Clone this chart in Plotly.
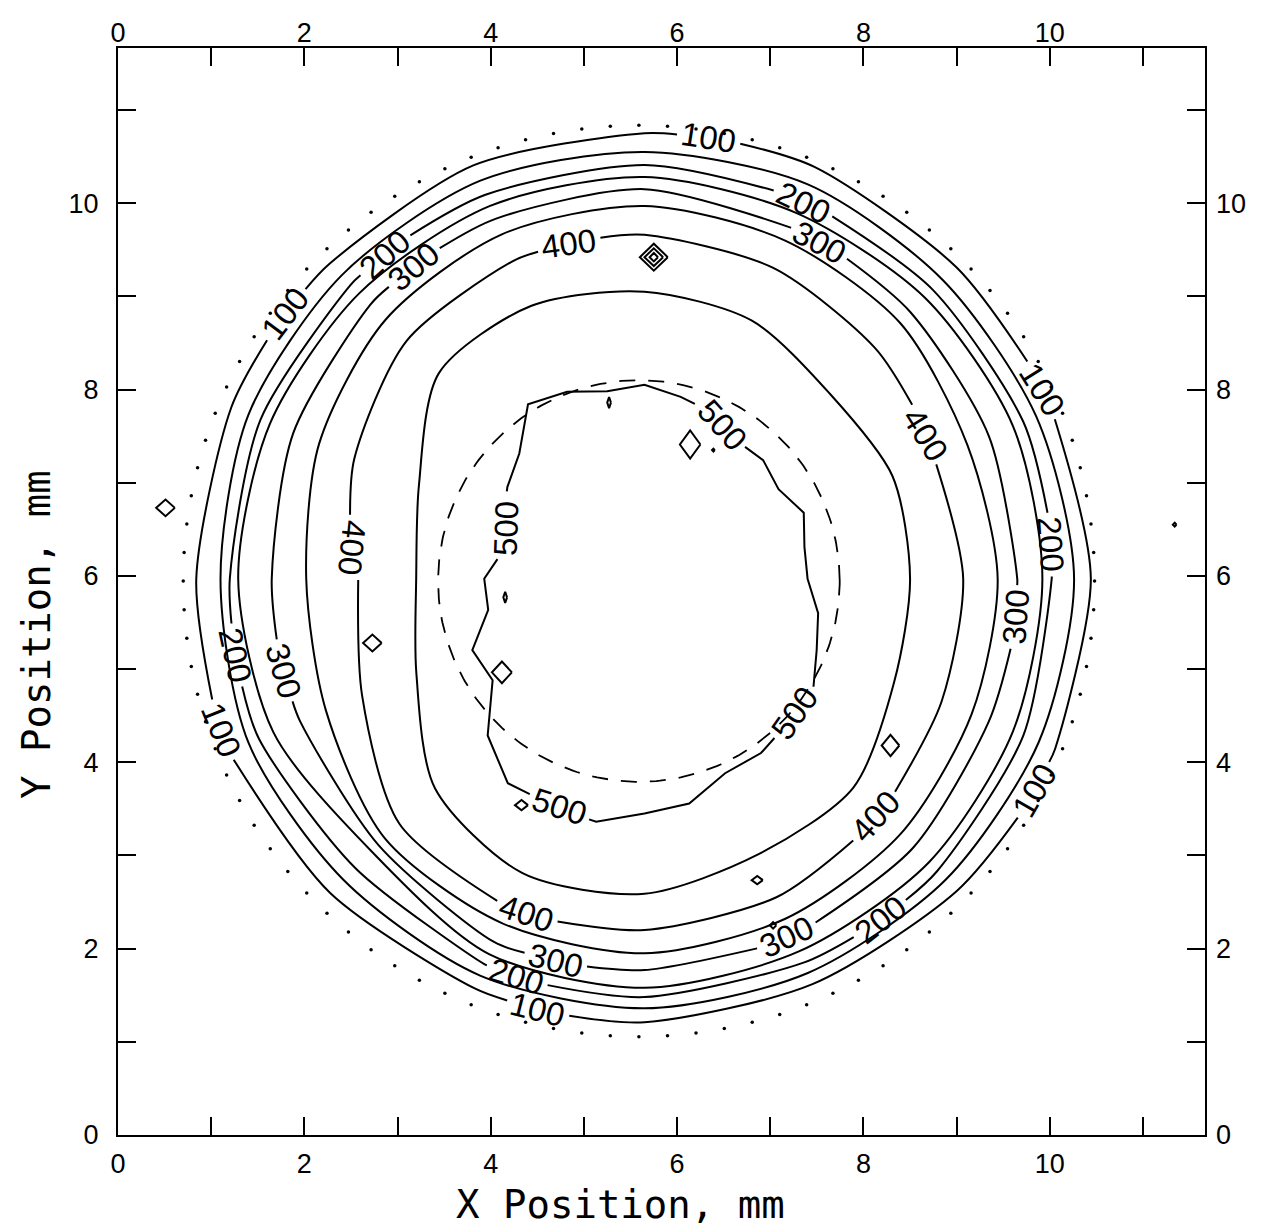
import numpy as np
import plotly.graph_objects as go

# ---------------- data ----------------
# contour rings: radius (mm) measured from the ring centre along fixed directions
ring_center_x = 5.65
ring_center_y = 5.97
ring_angles = [0.0, 22.5, 45.0, 67.5, 90.0, 112.5, 135.0, 157.5,
               180.0, 202.5, 225.0, 247.5, 270.0, 292.5, 315.0, 337.5]
r100 = [4.79, 4.72, 4.73, 4.78, 4.78, 4.80, 4.78, 4.80, 4.81, 4.82, 4.77, 4.76, 4.76, 4.71, 4.74, 4.77]
r150 = [4.61, 4.55, 4.53, 4.58, 4.58, 4.62, 4.60, 4.60, 4.55, 4.60, 4.57, 4.61, 4.61, 4.58, 4.57, 4.58]
r200 = [4.37, 4.40, 4.38, 4.38, 4.44, 4.46, 4.46, 4.46, 4.45, 4.48, 4.39, 4.48, 4.49, 4.46, 4.44, 4.40]
r250 = [4.27, 4.28, 4.26, 4.25, 4.31, 4.33, 4.33, 4.35, 4.36, 4.31, 4.14, 4.36, 4.39, 4.33, 4.31, 4.28]
r300 = [4.00, 4.00, 4.04, 4.08, 4.18, 4.18, 4.16, 4.08, 4.00, 4.00, 4.04, 4.22, 4.20, 4.13, 4.08, 4.00]
r350 = [3.79, 3.75, 3.88, 3.93, 4.00, 4.00, 3.93, 3.78, 3.63, 3.70, 3.94, 4.00, 4.02, 3.95, 3.88, 3.80]
r400 = [3.42, 3.36, 3.50, 3.61, 3.69, 3.69, 3.61, 3.37, 3.07, 3.28, 3.72, 3.81, 3.77, 3.70, 3.55, 3.45]
r450 = [2.85, 2.88, 2.81, 3.00, 3.08, 3.17, 3.12, 2.62, 2.45, 2.65, 3.18, 3.42, 3.38, 3.20, 3.17, 2.90]
core_angles = [0.0, 11.25, 22.5, 33.75, 45.0, 56.25, 67.5, 78.75, 90.0, 101.25, 112.5, 123.75,
               135.0, 146.25, 157.5, 168.75, 180.0, 191.25, 202.5, 213.75, 225.0, 236.25,
               247.5, 258.75, 270.0, 281.25, 292.5, 303.75, 315.0, 326.25, 337.5, 348.75]
r500 = [1.75, 1.75, 1.85, 1.73, 1.80, 1.77, 1.90, 1.99, 2.08, 2.05, 2.17, 2.25,
        1.90, 1.77, 1.60, 1.53, 1.72, 1.71, 2.00, 1.96, 2.38, 2.64,
        2.60, 2.66, 2.52, 2.46, 2.26, 2.25, 2.16, 2.17, 2.00, 1.90]

# contour labels: level, direction (deg) and text rotation (deg, clockwise)
label_levels = [100, 100, 100, 100, 100, 100,
                200, 200, 200, 200, 200, 200,
                300, 300, 300, 300, 300, 300,
                400, 400, 400, 400, 400,
                500, 500, 500, 500]
label_angles = [81.7, 25.4, -28.5, -103.9, 199.7, 143.6,
                67.1, 4.8, -55.3, -107.8, 190.6, 128.7,
                62.5, -5.9, -68.3, -103.1, 194.3, 126.5,
                102.7, 27.2, -45.9, -109.4, 174.0,
                160.0, 63.3, -41.7, -110.5]
label_rot = [9, 58, -60, 14, 68, -53,
             26, 86, -38, 17, 78, -42,
             28, -86, -25, 14, 74, -40,
             -8, 58, -48, 18, 96,
             -88, 48, -55, 18]

# small closed contours (islands): centre and half sizes
island_x = [5.75, 5.75, 5.75, 0.51, 11.34, 2.73, 4.12, 4.155, 5.27, 6.39, 6.14, 8.29, 4.33, 6.86, 7.03]
island_y = [9.42, 9.42, 9.42, 6.73, 6.55, 5.28, 4.965, 5.77, 7.86, 7.35, 7.41, 4.18, 3.54, 2.735, 2.25]
island_hx = [0.15, 0.10, 0.045, 0.10, 0.02, 0.10, 0.107, 0.02, 0.02, 0.015, 0.11, 0.095, 0.07, 0.06, 0.035]
island_hy = [0.145, 0.095, 0.045, 0.09, 0.02, 0.09, 0.116, 0.06, 0.06, 0.015, 0.15, 0.115, 0.055, 0.045, 0.035]

# reference circles
circle_cx = 5.59
circle_cy = 5.945
aperture_r = 4.89
aperture_dots = 100
beam_r = 2.155

axis_max = 11.665
tick_vals = [0, 1, 2, 3, 4, 5, 6, 7, 8, 9, 10, 11]
tick_text = ["0", "", "2", "", "4", "", "6", "", "8", "", "10", ""]
label_tick_vals = [0, 2, 4, 6, 8, 10]
label_tick_text = ["0", "2", "4", "6", "8", "10"]

# ---------------- figure ----------------
PX_PER_MM = 93.2
LBL_FONT = "Liberation Sans, Arial, sans-serif"
LINE_W = 2.0
fig = go.Figure()


def r_at(angles, radii, t):
    a = np.array(angles, float)
    r = np.array(radii, float)
    return float(np.interp(t % 360.0, np.r_[a, a[0] + 360.0], np.r_[r, r[0]]))


def ring_path(angles, radii, gaps):
    pts = []
    for t in angles:
        inside = any(abs(((t - c + 180.0) % 360.0) - 180.0) < h for c, h in gaps)
        if not inside:
            pts.append((t % 360.0, 0))
    for c, h in gaps:
        pts.append(((c - h) % 360.0, 1))
        pts.append(((c + h) % 360.0, 2))
    pts.sort()
    if gaps:
        i0 = next(i for i, p in enumerate(pts) if p[1] == 2)
        pts = pts[i0:] + pts[:i0]
    else:
        pts = pts + [pts[0]]
    xs, ys = [], []
    for t, kind in pts:
        r = r_at(angles, radii, t)
        xs.append(ring_center_x + r * np.cos(np.radians(t)))
        ys.append(ring_center_y + r * np.sin(np.radians(t)))
        if kind == 1:
            xs.append(None)
            ys.append(None)
    return xs, ys


rings = [(100, ring_angles, r100, "spline"), (150, ring_angles, r150, "spline"),
         (200, ring_angles, r200, "spline"), (250, ring_angles, r250, "spline"),
         (300, ring_angles, r300, "spline"), (350, ring_angles, r350, "spline"),
         (400, ring_angles, r400, "spline"), (450, ring_angles, r450, "spline"),
         (500, core_angles, r500, "linear")]

GAP_PX = 32.0
for lvl, angs, rads, shape in rings:
    gaps = []
    for L, a in zip(label_levels, label_angles):
        if L == lvl:
            rr = r_at(angs, rads, a)
            gaps.append((a % 360.0, np.degrees(GAP_PX / (rr * PX_PER_MM))))
    xs, ys = ring_path(angs, rads, gaps)
    fig.add_trace(go.Scatter(x=xs, y=ys, mode="lines",
                             line=dict(color="black", width=LINE_W, shape=shape,
                                       smoothing=0.8 if shape == "spline" else None),
                             showlegend=False, hoverinfo="skip"))

# label annotations
ring_lookup = {lvl: (angs, rads) for lvl, angs, rads, _ in rings}
for L, a, rot in zip(label_levels, label_angles, label_rot):
    angs, rads = ring_lookup[L]
    rr = r_at(angs, rads, a)
    fig.add_annotation(x=ring_center_x + rr * np.cos(np.radians(a)),
                       y=ring_center_y + rr * np.sin(np.radians(a)),
                       xref="x", yref="y", text=str(L), showarrow=False,
                       textangle=rot, font=dict(family=LBL_FONT, size=33, color="black"))

# islands
ix, iy = [], []
for cx, cy, hx, hy in zip(island_x, island_y, island_hx, island_hy):
    ix += [cx + hx, cx, cx - hx, cx, cx + hx, None]
    iy += [cy, cy + hy, cy, cy - hy, cy, None]
fig.add_trace(go.Scatter(x=ix, y=iy, mode="lines", line=dict(color="black", width=LINE_W),
                         showlegend=False, hoverinfo="skip"))

# dotted aperture circle
th = np.radians(np.arange(aperture_dots) * 360.0 / aperture_dots)
fig.add_trace(go.Scatter(x=circle_cx + aperture_r * np.cos(th), y=circle_cy + aperture_r * np.sin(th),
                         mode="markers", marker=dict(color="black", size=3.5),
                         showlegend=False, hoverinfo="skip"))

# dashed beam circle
tb = np.radians(np.linspace(0, 360, 361))
fig.add_trace(go.Scatter(x=circle_cx + beam_r * np.cos(tb), y=circle_cy + beam_r * np.sin(tb),
                         mode="lines", line=dict(color="black", width=1.8, dash="16px,13px"),
                         showlegend=False, hoverinfo="skip"))

# invisible trace for top/right label axes
fig.add_trace(go.Scatter(x=[0], y=[0], xaxis="x2", yaxis="y2", mode="markers",
                         marker=dict(opacity=0), showlegend=False, hoverinfo="skip"))

tickfont = dict(family=LBL_FONT, size=27, color="black")
common = dict(range=[0, axis_max], showgrid=False, zeroline=False, automargin=False)
fig.update_layout(
    width=1266, height=1222, autosize=False,
    margin=dict(l=110, r=69, t=40, b=95, pad=0),
    plot_bgcolor="white", paper_bgcolor="white",
    xaxis=dict(**common, showline=True, linecolor="black", linewidth=2, mirror="allticks",
               ticks="inside", ticklen=18, tickwidth=2, tickcolor="black",
               tickmode="array", tickvals=tick_vals, ticktext=tick_text,
               tickfont=tickfont, ticklabelstandoff=4),
    yaxis=dict(**common, showline=True, linecolor="black", linewidth=2, mirror="allticks",
               ticks="inside", ticklen=18, tickwidth=2, tickcolor="black",
               tickmode="array", tickvals=tick_vals, ticktext=tick_text,
               tickfont=tickfont, ticklabelstandoff=12),
    xaxis2=dict(**common, overlaying="x", side="top", anchor="y", showline=False, ticks="",
                tickmode="array", tickvals=label_tick_vals, ticktext=label_tick_text,
                tickfont=tickfont, ticklabelstandoff=0),
    yaxis2=dict(**common, overlaying="y", side="right", anchor="x", showline=False, ticks="",
                tickmode="array", tickvals=label_tick_vals, ticktext=label_tick_text,
                tickfont=tickfont, ticklabelstandoff=10),
)

title_font = dict(family="DejaVu Sans Mono, monospace", size=39, color="black")
fig.add_annotation(text="X Position, mm", xref="paper", yref="paper",
                   x=(620 - 118) / 1087, y=(1135 - 1204) / 1087,
                   showarrow=False, font=title_font, xanchor="center", yanchor="middle")
fig.add_annotation(text="Y Position, mm", xref="paper", yref="paper",
                   x=(36 - 118) / 1087, y=(1135 - 635) / 1087, textangle=-90,
                   showarrow=False, font=title_font, xanchor="center", yanchor="middle")

fig.write_html("out.html")
